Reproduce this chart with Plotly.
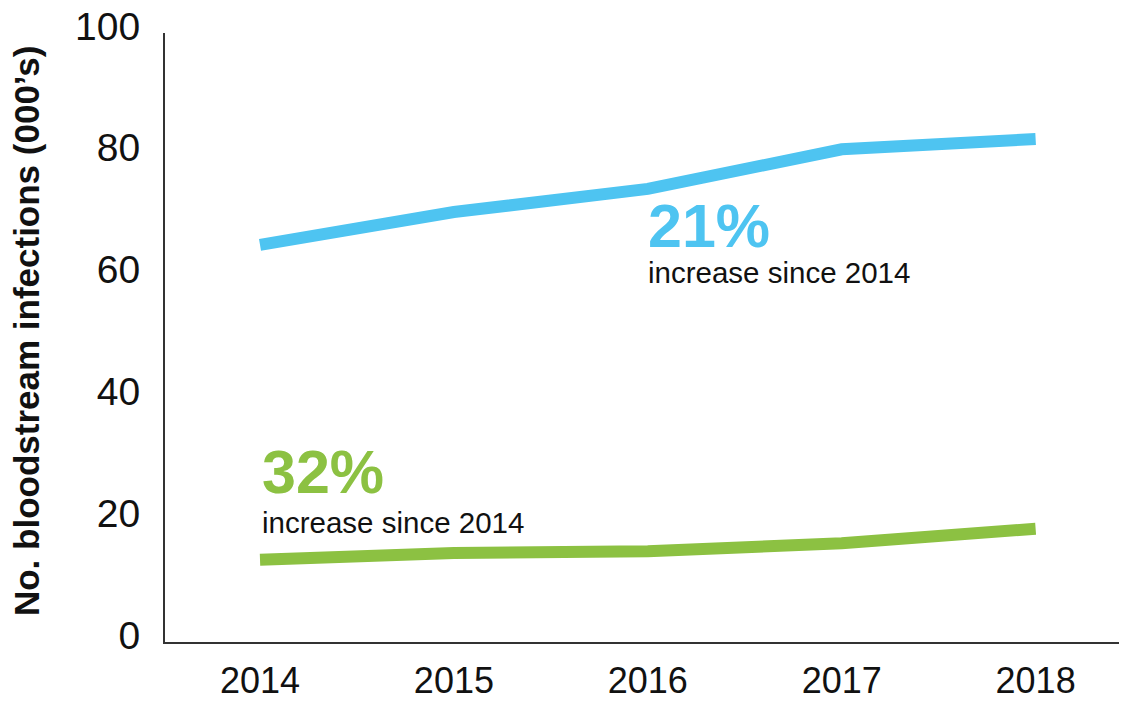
import plotly.graph_objects as go

years = [2014, 2015, 2016, 2017, 2018]
blue_vals = [65.2, 70.6, 74.4, 80.9, 82.6]
green_vals = [13.5, 14.6, 14.9, 16.2, 18.6]
y_ticks = [0, 20, 40, 60, 80, 100]

BLUE = "#4EC4F1"
GREEN = "#8CC142"
FONT = "Liberation Sans, Arial"

fig = go.Figure()

fig.add_trace(go.Scatter(x=years, y=blue_vals, mode="lines",
                         line=dict(color=BLUE, width=12), hoverinfo="skip"))
fig.add_trace(go.Scatter(x=years, y=green_vals, mode="lines",
                         line=dict(color=GREEN, width=12), hoverinfo="skip"))

# callouts
fig.add_annotation(x=2016, y=68.3, xref="x", yref="y", text="<b>21%</b>",
                   showarrow=False, xanchor="left", yanchor="middle", xshift=-2,
                   font=dict(family=FONT, size=61, color=BLUE))
fig.add_annotation(x=2016, y=60.7, xref="x", yref="y", text="increase since 2014",
                   showarrow=False, xanchor="left", yanchor="middle", xshift=-2,
                   font=dict(family=FONT, size=29.5, color="#111111"))
fig.add_annotation(x=2014, y=27.9, xref="x", yref="y", text="<b>32%</b>",
                   showarrow=False, xanchor="left", yanchor="middle", xshift=0,
                   font=dict(family=FONT, size=61, color=GREEN))
fig.add_annotation(x=2014, y=19.7, xref="x", yref="y", text="increase since 2014",
                   showarrow=False, xanchor="left", yanchor="middle", xshift=0,
                   font=dict(family=FONT, size=29.5, color="#111111"))

# y-axis title
fig.add_annotation(x=-0.145, y=0.51, xref="paper", yref="paper",
                   text="<b>No. bloodstream infections (000’s)</b>", textangle=-90,
                   showarrow=False, xanchor="center", yanchor="middle",
                   font=dict(family=FONT, size=35, color="#111111"))

# page body adds an 8px offset, so the figure is sized to fit inside it
fig.update_layout(
    width=1111, height=694,
    margin=dict(l=157, r=0, t=25, b=60),
    plot_bgcolor="white", paper_bgcolor="white",
    showlegend=False,
)

fig.update_xaxes(
    range=[2013.51, 2018.43], tickvals=years,
    showgrid=False, zeroline=False, automargin=False,
    showline=True, linecolor="#333333", linewidth=2,
    ticks="", ticklabelstandoff=6,
    tickfont=dict(family=FONT, size=36, color="#111111"),
)
fig.update_yaxes(
    range=[0, 100], tickvals=y_ticks,
    showgrid=False, zeroline=False, automargin=False,
    showline=True, linecolor="#333333", linewidth=2,
    ticks="", ticklabelstandoff=15, ticklabelshift=-7,
    ticklabeloverflow="allow",
    tickfont=dict(family=FONT, size=39, color="#111111"),
)

fig.write_html("out.html")
